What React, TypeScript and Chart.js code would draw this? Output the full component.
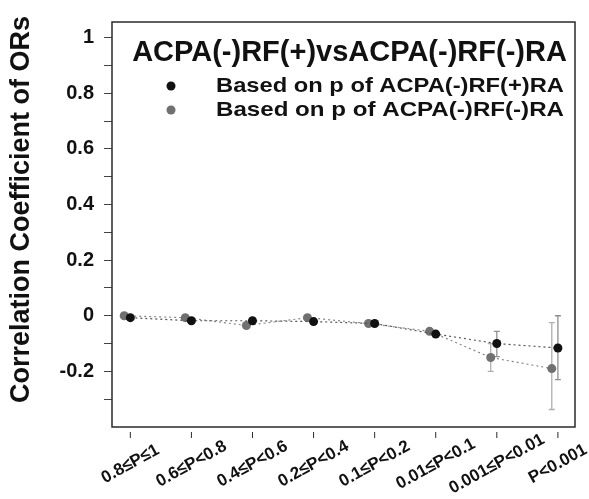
import React, { useEffect, useRef } from 'react';
import { Chart, registerables } from 'chart.js';

Chart.register(...registerables);

// ---- data ----
const categories = ['0.8≤P≤1', '0.6≤P<0.8', '0.4≤P<0.6', '0.2≤P<0.4', '0.1≤P<0.2', '0.01≤P<0.1', '0.001≤P<0.01', 'P<0.001'];
const chartTitle = 'ACPA(-)RF(+)vsACPA(-)RF(-)RA';
const yAxisTitle = 'Correlation Coefficient of ORs';
const seriesPlusLabel = 'Based on p of ACPA(-)RF(+)RA';
const seriesMinusLabel = 'Based on p of ACPA(-)RF(-)RA';
const plusValues = [-0.007, -0.018, -0.018, -0.021, -0.028, -0.066, -0.1, -0.116];
const plusLower = [null, null, null, null, null, null, -0.147, -0.23];
const plusUpper = [null, null, null, null, null, null, -0.056, 0.0];
const minusValues = [0.0, -0.007, -0.035, -0.007, -0.028, -0.056, -0.15, -0.19];
const minusLower = [null, null, null, null, null, null, -0.2, -0.337];
const minusUpper = [null, null, null, null, null, null, -0.1, -0.025];
const yTicks = [-0.3, -0.2, -0.1, 0, 0.1, 0.2, 0.3, 0.4, 0.5, 0.6, 0.7, 0.8, 0.9, 1];
const yTickLabels = ['', '-0.2', '', '0', '', '0.2', '', '0.4', '', '0.6', '', '0.8', '', '1'];

const FONT = '"Liberation Sans", Arial, Helvetica, sans-serif';
const MINUS_DODGE = -0.1;
const PLUS_COLOR = '#111111';
const MINUS_COLOR = '#707070';

const decor = {
  id: 'decor',
  beforeDatasetsDraw(chart: any) {
    const { ctx, scales } = chart;
    const x = scales.x, y = scales.y;
    const drawBars = (lo: (number | null)[], hi: (number | null)[], dodge: number, color: string) => {
      ctx.save();
      ctx.strokeStyle = color;
      ctx.lineWidth = 1.3;
      lo.forEach((l, i) => {
        const h = hi[i];
        if (l == null || h == null) return;
        const px = x.getPixelForValue(i + dodge);
        const p1 = y.getPixelForValue(l), p2 = y.getPixelForValue(h);
        ctx.beginPath();
        ctx.moveTo(px, p1); ctx.lineTo(px, p2);
        ctx.moveTo(px - 3, p1); ctx.lineTo(px + 3, p1);
        ctx.moveTo(px - 3, p2); ctx.lineTo(px + 3, p2);
        ctx.stroke();
      });
      ctx.restore();
    };
    drawBars(minusLower, minusUpper, MINUS_DODGE, '#b0b0b0');
    drawBars(plusLower, plusUpper, 0, '#909090');
  },
  afterDraw(chart: any) {
    const { ctx, chartArea, scales } = chart;
    const { left, right, top, bottom } = chartArea;
    const x = scales.x;
    ctx.save();
    // box
    ctx.strokeStyle = '#2a2a2a';
    ctx.lineWidth = 1.5;
    ctx.strokeRect(left, top, right - left, bottom - top);
    // x ticks and rotated labels
    ctx.lineWidth = 1;
    categories.forEach((c, i) => {
      const px = x.getPixelForValue(i);
      ctx.beginPath();
      ctx.moveTo(px, bottom + 5);
      ctx.lineTo(px, bottom + 11);
      ctx.stroke();
      ctx.save();
      ctx.translate(px, bottom + 37);
      ctx.rotate(-29 * Math.PI / 180);
      ctx.fillStyle = '#111';
      ctx.font = `bold 17px ${FONT}`;
      ctx.textAlign = 'center';
      ctx.textBaseline = 'middle';
      ctx.fillText(c, 0, 0);
      ctx.restore();
    });
    // y axis title
    ctx.save();
    ctx.translate(22, (top + bottom) / 2 - 15);
    ctx.rotate(-Math.PI / 2);
    ctx.fillStyle = '#111';
    ctx.font = `bold 27px ${FONT}`;
    ctx.textAlign = 'center';
    ctx.textBaseline = 'middle';
    ctx.fillText(yAxisTitle, 0, 0);
    ctx.restore();
    // title
    ctx.fillStyle = '#111';
    ctx.font = `bold 29px ${FONT}`;
    ctx.textAlign = 'center';
    ctx.textBaseline = 'middle';
    ctx.fillText(chartTitle, (left + right) / 2 + 6, top + 31);
    // legend
    const legend = [
      { label: seriesPlusLabel, color: PLUS_COLOR, y: top + 64 },
      { label: seriesMinusLabel, color: MINUS_COLOR, y: top + 88 },
    ];
    legend.forEach((it) => {
      ctx.beginPath();
      ctx.fillStyle = it.color;
      ctx.arc(171, it.y, 4.5, 0, Math.PI * 2);
      ctx.fill();
      ctx.fillStyle = '#111';
      ctx.font = `bold 21px ${FONT}`;
      ctx.textAlign = 'left';
      ctx.textBaseline = 'middle';
      const w = ctx.measureText(it.label).width;
      ctx.save();
      ctx.translate(216, it.y);
      ctx.scale(348 / w, 1);
      ctx.fillText(it.label, 0, 0);
      ctx.restore();
    });
    ctx.restore();
  },
};

export default function App() {
  const ref = useRef<HTMLCanvasElement | null>(null);
  useEffect(() => {
    if (!ref.current) return;
    const chart = new Chart(ref.current, {
      type: 'line',
      data: {
        datasets: [
          {
            label: seriesPlusLabel,
            data: plusValues.map((v, i) => ({ x: i, y: v })),
            borderColor: '#555',
            borderDash: [2, 3],
            borderWidth: 1.2,
            pointRadius: 4.5,
            pointBackgroundColor: PLUS_COLOR,
            pointBorderWidth: 0,
            fill: false,
          },
          {
            label: seriesMinusLabel,
            data: minusValues.map((v, i) => ({ x: i + MINUS_DODGE, y: v })),
            borderColor: '#888',
            borderDash: [2, 3],
            borderWidth: 1.2,
            pointRadius: 4.5,
            pointBackgroundColor: MINUS_COLOR,
            pointBorderWidth: 0,
            fill: false,
          },
        ],
      },
      options: {
        animation: false,
        responsive: true,
        maintainAspectRatio: false,
        layout: { padding: { left: 0, top: 13, right: 14, bottom: 0 } },
        plugins: { legend: { display: false }, tooltip: { enabled: false } },
        scales: {
          x: {
            type: 'linear',
            min: -0.3,
            max: 7.28,
            ticks: { display: false },
            grid: { display: false },
            border: { display: false },
            afterFit: (s: any) => { s.height = 72; },
          },
          y: {
            type: 'linear',
            min: -0.4,
            max: 1.056,
            afterBuildTicks: (axis: any) => { axis.ticks = yTicks.map((v) => ({ value: v })); },
            ticks: {
              callback: (_v: any, i: number) => yTickLabels[i],
              font: { family: FONT, size: 20, weight: 'bold' },
              color: '#111',
              padding: 10,
              autoSkip: false,
            },
            grid: { drawOnChartArea: false, drawTicks: true, tickLength: 8, color: '#444', lineWidth: 1 },
            border: { display: false },
            afterFit: (s: any) => { s.width = 112; },
          },
        },
      },
      plugins: [decor],
    } as any);
    return () => chart.destroy();
  }, []);
  return (
    <div style={{ position: 'fixed', left: 0, top: 0, width: 589, height: 499, background: '#fff' }}>
      <canvas ref={ref} />
    </div>
  );
}
